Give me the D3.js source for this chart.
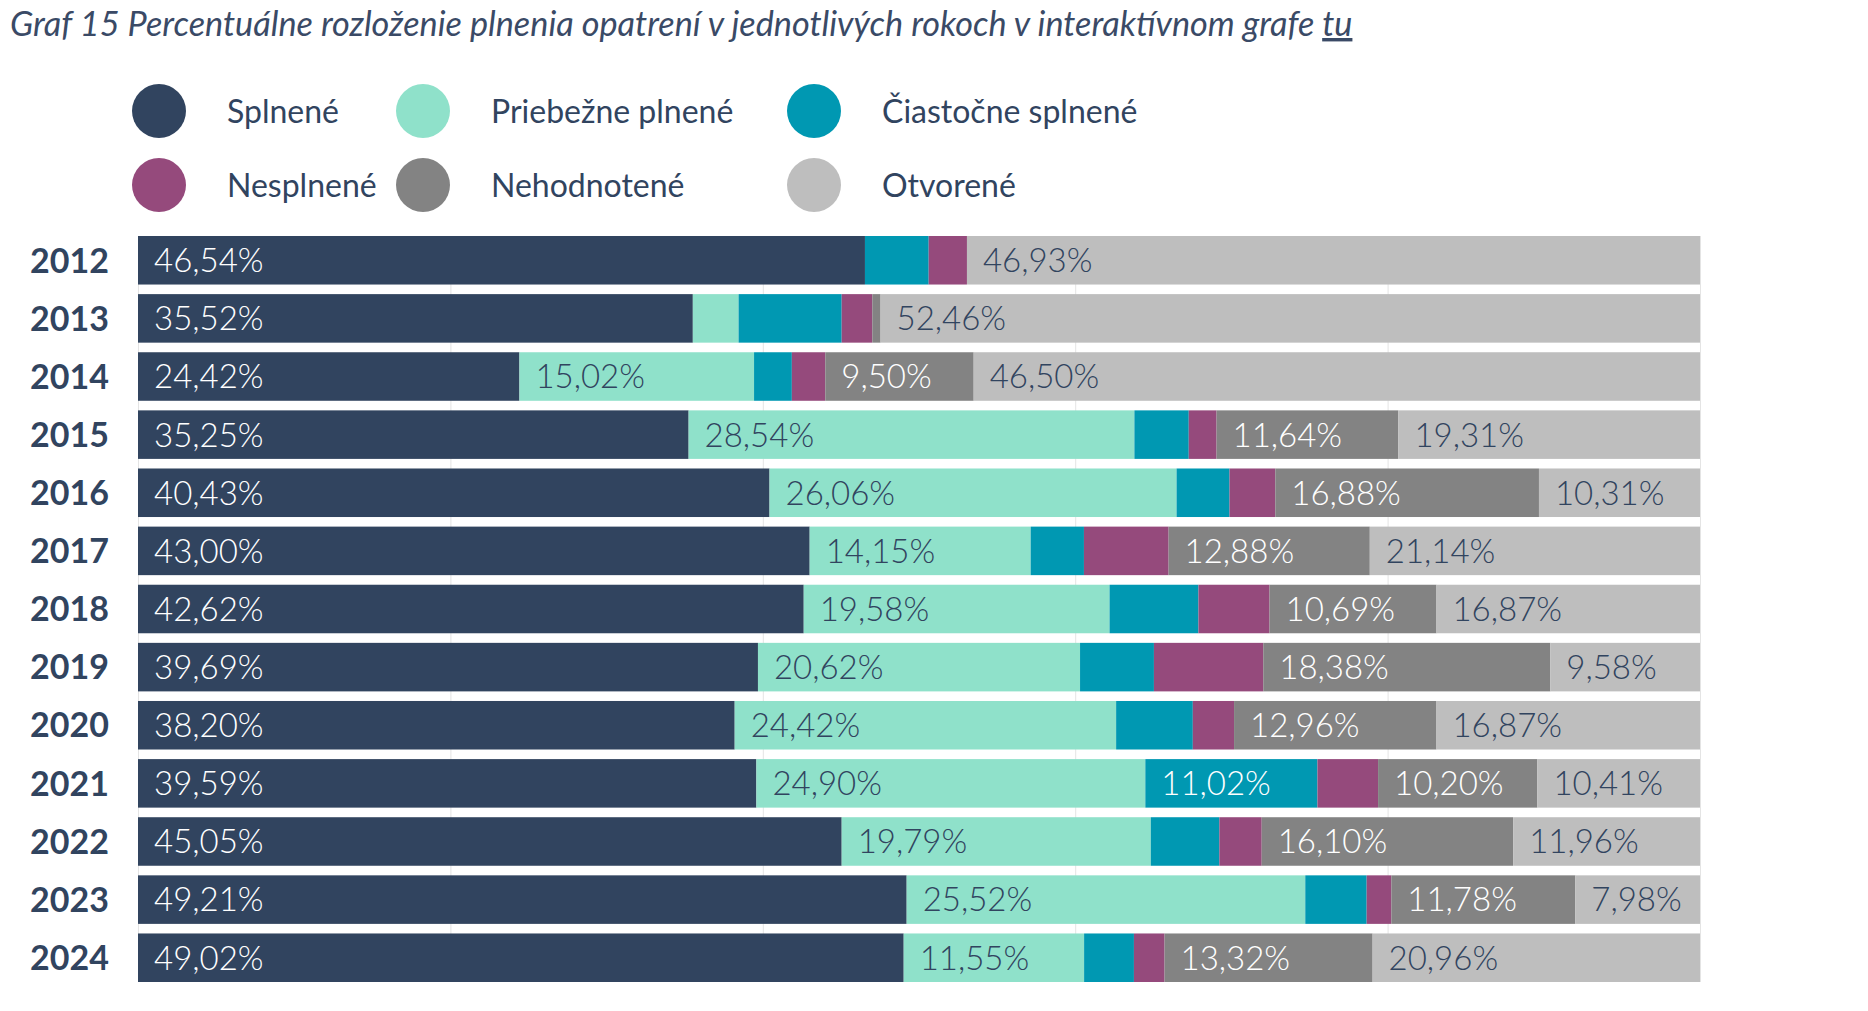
<!DOCTYPE html>
<html>
<head>
<meta charset="utf-8">
<script src="https://cdn.jsdelivr.net/npm/d3@7"></script>
<style>
  body { margin: 0; background: #fff; }
  svg { display: block; font-family: Lato, "Noto Sans", sans-serif; }
</style>
</head>
<body>
<svg id="chart"></svg>
<script>
const years = ['2012', '2013', '2014', '2015', '2016', '2017', '2018', '2019', '2020', '2021', '2022', '2023', '2024'];
const categories = ['Splnené', 'Priebežne plnené', 'Čiastočne splnené', 'Nesplnené', 'Nehodnotené', 'Otvorené'];

const splnene     = [46.54, 35.52, 24.42, 35.25, 40.43, 43.00, 42.62, 39.69, 38.20, 39.59, 45.05, 49.21, 49.02];
const priebezne   = [0, 2.93, 15.02, 28.54, 26.06, 14.15, 19.58, 20.62, 24.42, 24.90, 19.79, 25.52, 11.55];
const ciastocne   = [4.08, 6.60, 2.42, 3.48, 3.39, 3.41, 5.69, 4.73, 4.91, 11.02, 4.39, 3.93, 3.19];
const nesplnene   = [2.45, 1.96, 2.14, 1.78, 2.93, 5.42, 4.55, 7.00, 2.64, 3.88, 2.71, 1.58, 1.96];
const nehodnotene = [0, 0.53, 9.50, 11.64, 16.88, 12.88, 10.69, 18.38, 12.96, 10.20, 16.10, 11.78, 13.32];
const otvorene    = [46.93, 52.46, 46.50, 19.31, 10.31, 21.14, 16.87, 9.58, 16.87, 10.41, 11.96, 7.98, 20.96];

const gridTicks = [0, 20, 40, 60, 80, 100];

const colors = ['#31445f', '#8fe1ca', '#0098b2', '#954a7c', '#838383', '#bebebe'];
const labelColors = ['#ffffff', '#31445f', '#ffffff', '#ffffff', '#ffffff', '#31445f'];
const navy = '#31445f';

const series = [splnene, priebezne, ciastocne, nesplnene, nehodnotene, otvorene];
const rows = years.map((y, i) => {
    const r = { year: y };
    categories.forEach((c, k) => { r[c] = series[k][i]; });
    return r;
});

const width = 1868;
const height = 1011;

const svg = d3.select('#chart').attr('width', width).attr('height', height);

const x = d3.scaleLinear().domain([0, 100]).range([138, 1700]);
const y = d3.scaleBand()
    .domain(years)
    .range([236, 982])
    .paddingInner(0.165)
    .paddingOuter(0);

// title
const title = svg.append('text')
    .attr('x', 10)
    .attr('y', 36)
    .attr('fill', '#3a4a66')
    .attr('font-style', 'italic')
    .attr('font-size', 27);
title.append('tspan').text('Graf 15 Percentuálne rozloženie plnenia opatrení v jednotlivých rokoch v interaktívnom grafe ');
title.append('tspan').attr('text-decoration', 'underline').text('tu');
const tw = title.node().getComputedTextLength();
title.attr('font-size', 27 * 1343 / tw);

// legend
const legend = svg.append('g');
const legendCols = [159, 423, 814];
const legendRows = [111, 185];
categories.forEach((c, i) => {
    const cx = legendCols[i % 3];
    const cy = legendRows[Math.floor(i / 3)];
    legend.append('circle')
        .attr('cx', cx)
        .attr('cy', cy)
        .attr('r', 27)
        .attr('fill', colors[i]);
    legend.append('text')
        .attr('x', cx + 68)
        .attr('y', cy)
        .attr('dy', '0.36em')
        .attr('fill', navy)
        .attr('font-size', 32)
        .text(c);
});

// grid
svg.append('g')
    .attr('transform', `translate(0,${y.range()[0]})`)
    .call(d3.axisBottom(x).tickValues(gridTicks).tickSize(y.range()[1] - y.range()[0]).tickFormat(''))
    .call(g => g.select('.domain').remove())
    .call(g => g.selectAll('line').attr('stroke', '#e4e4e4'));

// bars
const stacked = d3.stack().keys(categories)(rows);
const fmt = v => v.toFixed(2).replace('.', ',') + '%';

const layers = svg.selectAll('.layer')
    .data(stacked)
    .enter()
    .append('g')
    .attr('class', 'layer')
    .attr('fill', (d, i) => colors[i]);

layers.selectAll('rect')
    .data(d => d)
    .enter()
    .append('rect')
    .attr('x', d => x(d[0]))
    .attr('y', d => y(d.data.year))
    .attr('width', d => x(d[1]) - x(d[0]))
    .attr('height', y.bandwidth());

layers.each(function(layer, i) {
    d3.select(this).selectAll('text')
        .data(layer.filter(d => d[1] - d[0] >= 7.5))
        .enter()
        .append('text')
        .attr('x', d => x(d[0]) + 16)
        .attr('y', d => y(d.data.year) + y.bandwidth() / 2)
        .attr('dy', '0.36em')
        .attr('fill', labelColors[i])
        .attr('font-size', 33)
        .attr('font-weight', 300)
        .text(d => fmt(d[1] - d[0]));
});

// year labels
svg.append('g')
    .selectAll('text')
    .data(years)
    .enter()
    .append('text')
    .attr('x', 30)
    .attr('y', d => y(d) + y.bandwidth() / 2)
    .attr('dy', '0.36em')
    .attr('fill', navy)
    .attr('font-weight', 'bold')
    .attr('font-size', 34)
    .text(d => d);
</script>
</body>
</html>
